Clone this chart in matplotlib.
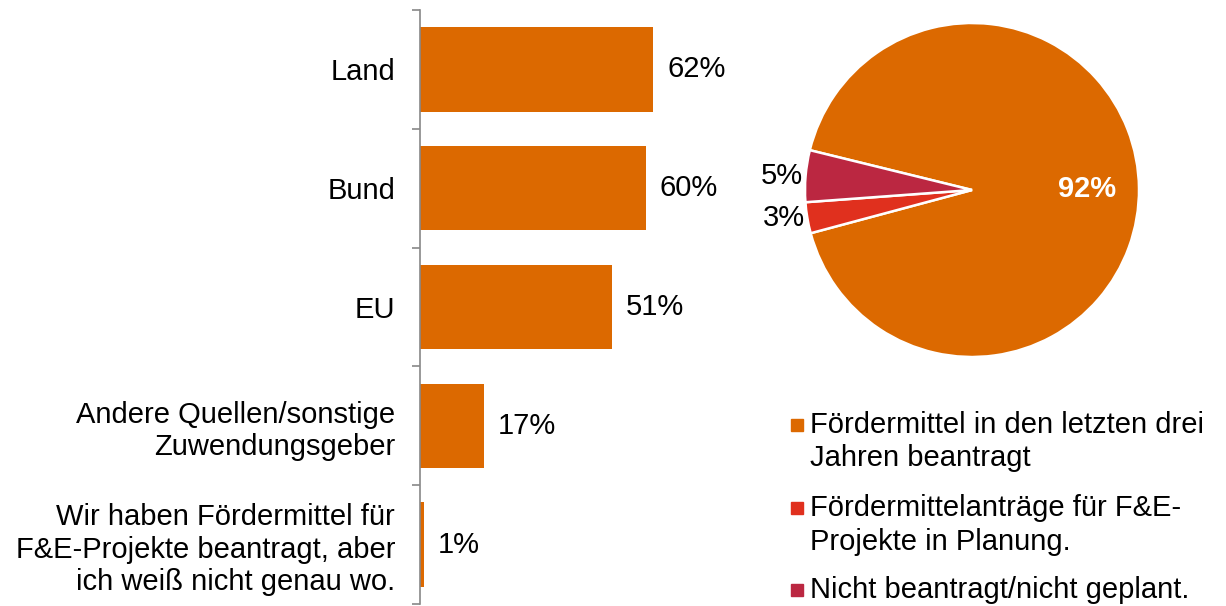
import matplotlib
matplotlib.use("Agg")
import numpy as np
import matplotlib.pyplot as plt
import matplotlib.patches as mpatches

plt.rcParams["font.family"] = ["Liberation Sans", "DejaVu Sans"]

# ── Data ───────────────────────────────────────────────────────────────────────
bar_labels = [
    "Land",
    "Bund",
    "EU",
    "Andere Quellen/sonstige\nZuwendungsgeber",
    "Wir haben Fördermittel für\nF&E-Projekte beantragt, aber\nich weiß nicht genau wo.",
]
bar_values = [62, 60, 51, 17, 1]

pie_labels = [
    "Fördermittel in den letzten drei\nJahren beantragt",
    "Fördermittelanträge für F&E-\nProjekte in Planung.",
    "Nicht beantragt/nicht geplant.",
]
pie_values = [92, 3, 5]

# ── Style ──────────────────────────────────────────────────────────────────────
ORANGE  = "#DC6900"
RED     = "#E0301E"
CRIMSON = "#BB2741"
GREY    = "#888888"
FS      = 21

W, H = 1226, 606
fig = plt.figure(figsize=(W / 100, H / 100), dpi=100)

# ── Bar chart ──────────────────────────────────────────────────────────────────
XMAX = 80
ax = fig.add_axes([420 / W, 2 / H, XMAX * 3.76 / W, 594 / H])
y = np.arange(len(bar_values))
ax.barh(y, bar_values, height=0.71, color=ORANGE)
ax.set_xlim(0, XMAX)
ax.set_ylim(len(bar_values) - 0.5, -0.5)

for yi, v in zip(y, bar_values):
    ax.annotate(f"{v}%", (v, yi), xytext=(10, 0), textcoords="offset points",
                ha="left", va="center", fontsize=FS)

for side in ("top", "right", "bottom"):
    ax.spines[side].set_visible(False)
ax.spines["left"].set_color(GREY)
ax.spines["left"].set_linewidth(1.2)
ax.set_xticks([])
ax.set_yticks(y)
ax.set_yticklabels(bar_labels, fontsize=FS, ha="right", multialignment="right")
ax.tick_params(axis="y", which="major", length=0, pad=18)
ax.set_yticks(np.arange(len(bar_values) + 1) - 0.5, minor=True)
ax.tick_params(axis="y", which="minor", length=6, width=1.2, color=GREY)

# ── Pie chart ──────────────────────────────────────────────────────────────────
cx, cy, r = 972, 190, 167
pax = fig.add_axes([(cx - r) / W, (H - cy - r) / H, 2 * r / W, 2 * r / H])
pie_colors = [ORANGE, RED, CRIMSON]
outer = ["" if v > 50 else f"{v}%" for v in pie_values]
wedges, texts, autotexts = pax.pie(
    pie_values, colors=pie_colors, labels=outer, labeldistance=1.015,
    startangle=166.2, counterclock=False,
    autopct=lambda p: f"{p:.0f}%" if p > 50 else "", pctdistance=0.69,
    wedgeprops=dict(edgecolor="white", linewidth=1.8),
    textprops=dict(fontsize=FS),
)
for t in autotexts:
    t.set_color("white")
    t.set_fontweight("bold")
pax.set_xlim(-1, 1)
pax.set_ylim(-1, 1)
pax.set_aspect("equal")
pax.axis("off")

# ── Legend ─────────────────────────────────────────────────────────────────────
leg_y = [425, 508, 590]
for lbl, col, ly in zip(pie_labels, pie_colors, leg_y):
    fig.add_artist(mpatches.Rectangle((791 / W, (H - ly - 6) / H), 12 / W, 12 / H,
                                      transform=fig.transFigure, color=col))
    fig.text(810 / W, (H - ly + 14) / H, lbl, fontsize=FS, ha="left", va="top",
             linespacing=1.25)

fig.savefig("out.png", dpi=100)
